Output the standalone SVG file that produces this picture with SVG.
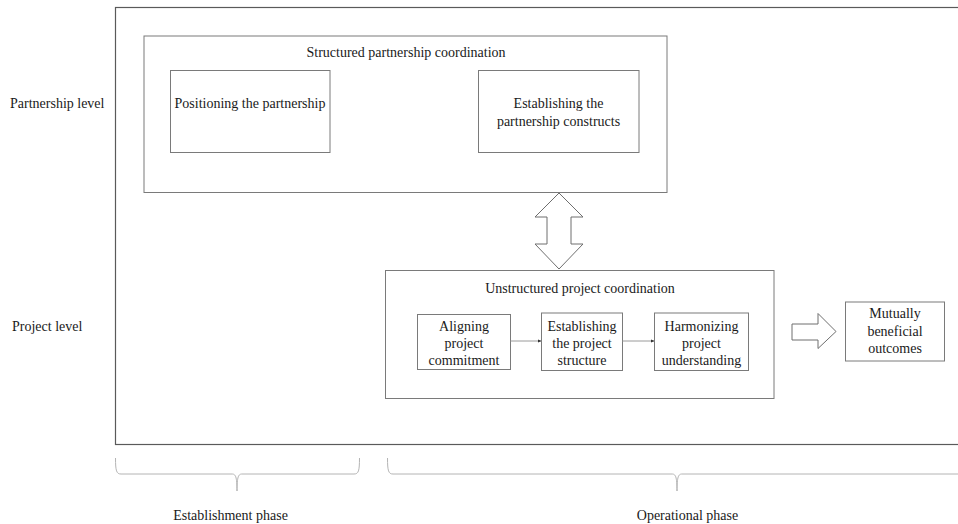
<svg xmlns="http://www.w3.org/2000/svg" width="958" height="524" viewBox="0 0 958 524">
  <style>
    text { font-family: "Liberation Serif", "Times New Roman", serif; font-size: 14px; fill: #1a1a1a; }
    .mid { text-anchor: middle; }
    .box { fill: #ffffff; stroke: #7a7a7a; stroke-width: 1; }
    .frame { fill: none; stroke: #5a5a5a; stroke-width: 1.2; }
    .block { fill: #ffffff; stroke: #6e6e6e; stroke-width: 1; }
    .flow { stroke: #9a9a9a; stroke-width: 1; fill: none; }
    .brace { stroke: #b4b4b4; stroke-width: 1; fill: none; }
  </style>
  <defs>
    <marker id="tip" markerWidth="4" markerHeight="4" refX="3.5" refY="2" orient="auto" markerUnits="userSpaceOnUse">
      <path d="M0,0.5 L3.5,2 L0,3.5 Z" fill="#333333"/>
    </marker>
  </defs>

  <rect width="958" height="524" fill="#ffffff"/>

  <!-- outer frame (right side runs past the page edge) -->
  <rect class="frame" x="115.5" y="7.5" width="850" height="437"/>

  <!-- row labels -->
  <g id="row-labels">
    <text x="10" y="108">Partnership level</text>
    <text x="12" y="331">Project level</text>
  </g>

  <!-- partnership level -->
  <g id="structured">
    <rect class="box" x="144" y="36" width="523" height="156.5"/>
    <text class="mid" x="406" y="57">Structured partnership coordination</text>
  </g>
  <g id="positioning">
    <rect class="box" x="170.5" y="70.5" width="159.5" height="82"/>
    <text class="mid" x="250" y="107.5">Positioning the partnership</text>
  </g>
  <g id="constructs">
    <rect class="box" x="478.5" y="70.5" width="160.5" height="82"/>
    <text class="mid" x="558.5" y="107.5">Establishing the</text>
    <text class="mid" x="558.5" y="126">partnership constructs</text>
  </g>

  <!-- project level -->
  <g id="unstructured">
    <rect class="box" x="385.5" y="270.5" width="388.5" height="128"/>
    <text class="mid" x="580" y="293">Unstructured project coordination</text>
  </g>
  <g id="aligning">
    <rect class="box" x="417.5" y="314.5" width="93" height="55"/>
    <text class="mid" x="464" y="331">Aligning</text>
    <text class="mid" x="464" y="348">project</text>
    <text class="mid" x="464" y="365">commitment</text>
  </g>
  <g id="structure">
    <rect class="box" x="541.5" y="313" width="81" height="57.5"/>
    <text class="mid" x="582" y="331">Establishing</text>
    <text class="mid" x="582" y="348">the project</text>
    <text class="mid" x="582" y="365">structure</text>
  </g>
  <g id="understanding">
    <rect class="box" x="654.5" y="313" width="94" height="57.5"/>
    <text class="mid" x="701.5" y="331">Harmonizing</text>
    <text class="mid" x="701.5" y="348">project</text>
    <text class="mid" x="701.5" y="365">understanding</text>
  </g>
  <g id="outcomes">
    <rect class="box" x="845.5" y="302" width="99" height="59"/>
    <text class="mid" x="895" y="318">Mutually</text>
    <text class="mid" x="895" y="335.5">beneficial</text>
    <text class="mid" x="895" y="353">outcomes</text>
  </g>

  <!-- connectors -->
  <g id="connectors">
    <polygon class="block" points="559,193 583,217 571,217 571,244 583,244 559,269 535,244 547,244 547,217 535,217"/>
    <line class="flow" x1="510.5" y1="341" x2="541.5" y2="341" marker-end="url(#tip)"/>
    <line class="flow" x1="622.5" y1="341" x2="654.5" y2="341" marker-end="url(#tip)"/>
    <polygon class="block" points="792,324 818,324 818,313.5 836,331.5 818,348.5 818,340 792,340"/>
  </g>

  <!-- phase braces -->
  <g id="establishment-phase">
    <path class="brace" d="M115.5,458 C115.5,471 116.5,474 121,474 L232,474 C235.5,474 237,476.5 237,491 C237,476.5 238.5,474 242,474 L354,474 C358.5,474 359.5,471 359.5,458"/>
    <text class="mid" x="230.5" y="520">Establishment phase</text>
  </g>
  <g id="operational-phase">
    <path class="brace" d="M387.5,458 C387.5,471 388.5,474 393,474 L672,474 C675.5,474 677,476.5 677,491 C677,476.5 678.5,474 682,474 L960,474"/>
    <text class="mid" x="687.5" y="520">Operational phase</text>
  </g>
</svg>
